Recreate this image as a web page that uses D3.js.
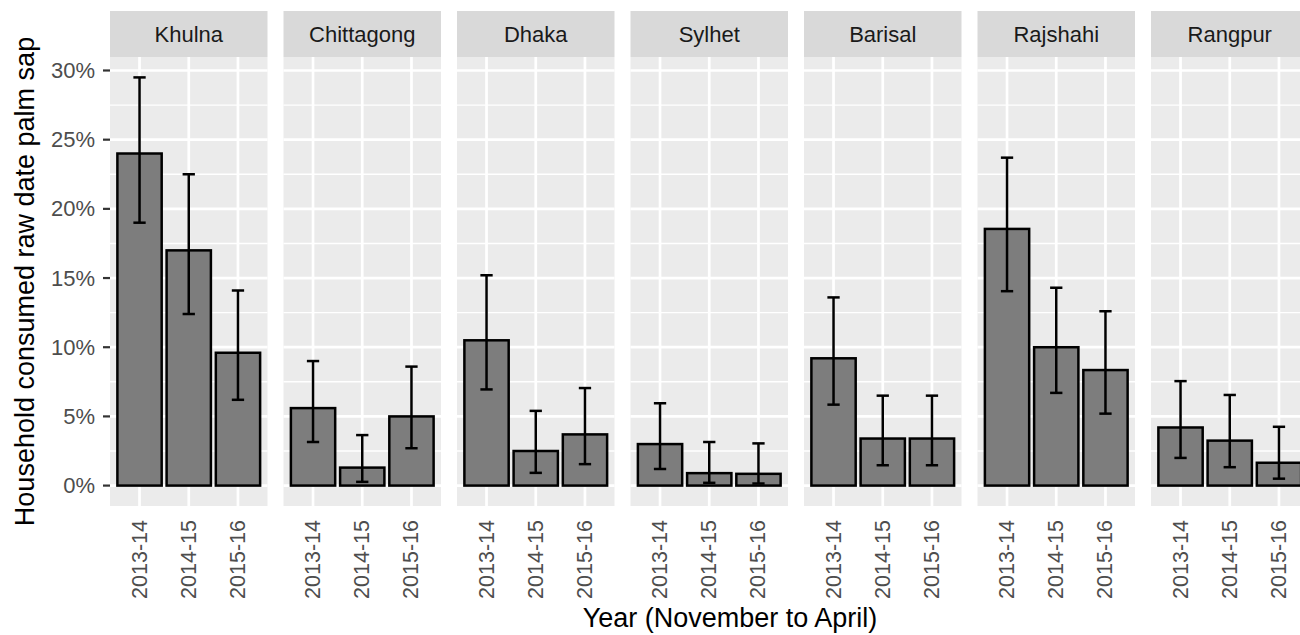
<!DOCTYPE html>
<html>
<head>
<meta charset="utf-8">
<script src="https://cdn.jsdelivr.net/npm/d3@7/dist/d3.min.js"></script>
<style>
  html, body { margin: 0; padding: 0; background: #fff; }
  svg { display: block; font-family: "Liberation Sans", Arial, sans-serif; }
</style>
</head>
<body>
<svg id="chart" width="1300" height="635"></svg>
<script>
// Divisions shown as facets, left to right
const divisions = ["Khulna", "Chittagong", "Dhaka", "Sylhet", "Barisal", "Rajshahi", "Rangpur"];
// Seasons (November to April)
const years = ["2013-14", "2014-15", "2015-16"];

// Percent of households that consumed raw date palm sap, per division and season
const pct = [
  [24.0, 17.0, 9.6],   // Khulna
  [5.6, 1.3, 5.0],     // Chittagong
  [10.5, 2.5, 3.7],    // Dhaka
  [3.0, 0.9, 0.85],    // Sylhet
  [9.2, 3.4, 3.4],     // Barisal
  [18.55, 10.0, 8.35], // Rajshahi
  [4.2, 3.25, 1.65]    // Rangpur
];
// 95% confidence interval, lower bound
const ciLow = [
  [19.0, 12.4, 6.2],
  [3.15, 0.27, 2.7],
  [6.95, 0.92, 1.55],
  [1.2, 0.2, 0.15],
  [5.85, 1.47, 1.47],
  [14.05, 6.7, 5.2],
  [2.0, 1.33, 0.5]
];
// 95% confidence interval, upper bound
const ciHigh = [
  [29.5, 22.5, 14.1],
  [9.0, 3.65, 8.6],
  [15.2, 5.4, 7.05],
  [5.95, 3.15, 3.05],
  [13.6, 6.5, 6.5],
  [23.7, 14.3, 12.6],
  [7.55, 6.55, 4.25]
];
const yTicks = [0, 5, 10, 15, 20, 25, 30];
const yMinor = [2.5, 7.5, 12.5, 17.5, 22.5, 27.5];

const svg = d3.select("#chart");

// Layout of the facet grid
const panelLeft = 110, panelWidth = 157.5, panelGap = 16;
const stripTop = 11, stripBottom = 57, panelBottom = 506;

// Shared y scale with 5% expansion on both sides of the data range
const yMax = d3.max(ciHigh.flat());
const pad = yMax * 0.05;
const y = d3.scaleLinear().domain([-pad, yMax + pad]).range([panelBottom, stripBottom]);

// Discrete x scale inside a panel: 0.6 unit padding on each side
const step = panelWidth / (years.length - 1 + 1.2);
const xInner = d3.scalePoint().domain(years).range([0.6 * step, panelWidth - 0.6 * step]);
const barW = 0.9 * step, capW = 0.25 * step;

const facetX = d3.scaleBand().domain(divisions)
  .range([panelLeft, panelLeft + divisions.length * (panelWidth + panelGap)])
  .paddingInner(0);

divisions.forEach((div, i) => {
  const x0 = facetX(div);
  const g = svg.append("g").attr("transform", `translate(${x0},0)`);

  // strip
  g.append("rect").attr("x", 0).attr("y", stripTop)
    .attr("width", panelWidth).attr("height", stripBottom - stripTop)
    .attr("fill", "#d9d9d9");
  g.append("text").attr("x", panelWidth / 2).attr("y", (stripTop + stripBottom) / 2)
    .attr("text-anchor", "middle").attr("dominant-baseline", "central")
    .attr("font-size", 22).attr("fill", "#1a1a1a").text(div);

  // panel background
  g.append("rect").attr("x", 0).attr("y", stripBottom)
    .attr("width", panelWidth).attr("height", panelBottom - stripBottom)
    .attr("fill", "#ebebeb");

  // minor horizontal grid
  g.selectAll("line.minor").data(yMinor).join("line")
    .attr("x1", 0).attr("x2", panelWidth)
    .attr("y1", d => y(d)).attr("y2", d => y(d))
    .attr("stroke", "#fff").attr("stroke-width", 1.4);
  // major horizontal grid
  g.selectAll("line.majorY").data(yTicks).join("line")
    .attr("x1", 0).attr("x2", panelWidth)
    .attr("y1", d => y(d)).attr("y2", d => y(d))
    .attr("stroke", "#fff").attr("stroke-width", 2.7);
  // major vertical grid
  g.selectAll("line.majorX").data(years).join("line")
    .attr("x1", d => xInner(d)).attr("x2", d => xInner(d))
    .attr("y1", stripBottom).attr("y2", panelBottom)
    .attr("stroke", "#fff").attr("stroke-width", 2.7);

  const rows = years.map((yr, j) => ({ yr, v: pct[i][j], lo: ciLow[i][j], hi: ciHigh[i][j] }));

  // bars
  g.selectAll("rect.bar").data(rows).join("rect")
    .attr("x", d => xInner(d.yr) - barW / 2)
    .attr("y", d => y(d.v))
    .attr("width", barW)
    .attr("height", d => y(0) - y(d.v))
    .attr("fill", "#7d7d7d").attr("stroke", "#000").attr("stroke-width", 2.5);

  // error bars
  const eb = g.selectAll("g.err").data(rows).join("g");
  eb.append("line")
    .attr("x1", d => xInner(d.yr)).attr("x2", d => xInner(d.yr))
    .attr("y1", d => y(d.lo)).attr("y2", d => y(d.hi));
  eb.append("line")
    .attr("x1", d => xInner(d.yr) - capW / 2).attr("x2", d => xInner(d.yr) + capW / 2)
    .attr("y1", d => y(d.hi)).attr("y2", d => y(d.hi));
  eb.append("line")
    .attr("x1", d => xInner(d.yr) - capW / 2).attr("x2", d => xInner(d.yr) + capW / 2)
    .attr("y1", d => y(d.lo)).attr("y2", d => y(d.lo));
  eb.selectAll("line").attr("stroke", "#000").attr("stroke-width", 2.5);

  // x tick labels, rotated
  g.selectAll("text.xt").data(years).join("text")
    .attr("transform", d => `translate(${xInner(d)},520) rotate(-90)`)
    .attr("text-anchor", "end").attr("dominant-baseline", "central")
    .attr("font-size", 21.5).attr("fill", "#4d4d4d").text(d => d);
});

// y axis ticks and labels
const yAxis = svg.append("g");
yAxis.selectAll("line").data(yTicks).join("line")
  .attr("x1", panelLeft - 7).attr("x2", panelLeft)
  .attr("y1", d => y(d)).attr("y2", d => y(d))
  .attr("stroke", "#333").attr("stroke-width", 2.2);
yAxis.selectAll("text").data(yTicks).join("text")
  .attr("x", panelLeft - 15).attr("y", d => y(d))
  .attr("text-anchor", "end").attr("dominant-baseline", "central")
  .attr("font-size", 22).attr("fill", "#4d4d4d").text(d => d + "%");

// axis titles
svg.append("text")
  .attr("transform", `translate(34,${(stripBottom + panelBottom) / 2}) rotate(-90)`)
  .attr("text-anchor", "middle").attr("font-size", 27).attr("fill", "#000")
  .text("Household consumed raw date palm sap");
svg.append("text")
  .attr("x", 730).attr("y", 627)
  .attr("text-anchor", "middle").attr("font-size", 27).attr("fill", "#000")
  .text("Year (November to April)");
</script>
</body>
</html>
